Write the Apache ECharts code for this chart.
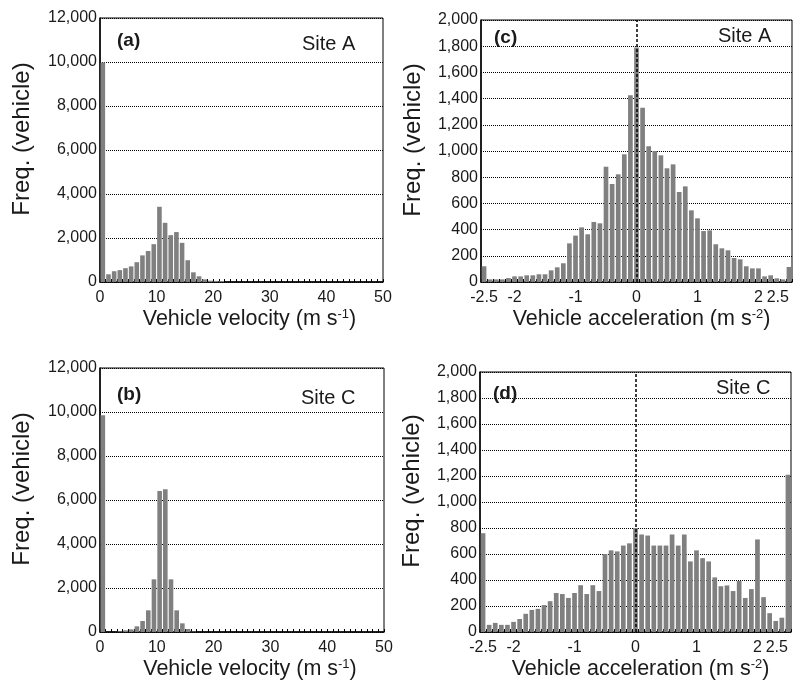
<!DOCTYPE html>
<html><head><meta charset="utf-8">
<script src="https://cdn.jsdelivr.net/npm/echarts@6/dist/echarts.min.js"></script>
<style>html,body{margin:0;padding:0;background:#fff}#c{width:800px;height:686px}</style>
</head><body><div id="c"></div>
<script>
// ---- data ----
const velBins = [0,1,2,3,4,5,6,7,8,9,10,11,12,13,14,15,16,17,18,19,20,21,22,23,24,25,26,27,28,29,30,31,32,33,34,35,36,37,38,39,40,41,42,43,44,45,46,47,48,49];
const velSiteA = [9980,350,490,540,630,710,900,1210,1410,1720,3420,2690,2130,2270,1780,990,440,260,120,60,50,45,0,0,0,0,0,0,0,0,0,0,0,0,0,0,0,0,0,0,0,0,0,0,0,0,0,0,0,0];
const velSiteC = [9850,0,0,30,76,120,258,500,985,2394,6410,6485,2394,985,394,136,20,0,0,0,0,0,0,0,0,0,0,0,0,0,0,0,0,0,0,0,0,0,0,0,0,0,0,0,0,0,0,0,0,0];
const velTickLabels = [0,10,20,30,40,50];
const velFreqTicks = [0,2000,4000,6000,8000,10000,12000];

const accBins = [-2.5,-2.4,-2.3,-2.2,-2.1,-2,-1.9,-1.8,-1.7,-1.6,-1.5,-1.4,-1.3,-1.2,-1.1,-1,-0.9,-0.8,-0.7,-0.6,-0.5,-0.4,-0.3,-0.2,-0.1,0,0.1,0.2,0.3,0.4,0.5,0.6,0.7,0.8,0.9,1,1.1,1.2,1.3,1.4,1.5,1.6,1.7,1.8,1.9,2,2.1,2.2,2.3,2.4,2.5];
const accSiteA = [120,20,20,20,30,43,43,51,51,59,59,89,112,143,295,354,417,364,458,448,880,748,822,975,1425,1790,1330,1036,1000,967,868,898,687,730,547,486,389,394,288,257,242,183,173,120,104,104,43,51,28,20,115];
const accSiteC = [760,55,70,55,55,78,100,140,170,178,207,237,300,292,262,300,360,292,360,315,600,628,620,665,682,800,750,742,665,665,665,750,665,750,543,628,568,543,420,352,358,315,392,262,330,712,268,145,85,110,1210];
const accTickLabels = [-2.5,-2,-1,0,1,2,2.5];
const accFreqTicks = [0,200,400,600,800,1000,1200,1400,1600,1800,2000];

// ---- styling ----
const FONT = '"Liberation Sans", Arial, sans-serif';
const TXT = '#1a1a1a';
const BAR = '#808080';

const grids = [
  {left:100, top:18, width:283, height:264},   // a
  {left:481, top:20, width:311, height:262},   // c
  {left:100, top:368, width:284, height:264},  // b
  {left:480, top:372, width:311, height:260}   // d
];

function yAxis(idx, ticks, nameGap) {
  return {
    type:'value', gridIndex:idx, min:ticks[0], max:ticks[ticks.length-1],
    interval: ticks[1]-ticks[0],
    axisLine:{show:true, lineStyle:{color:'#000', width:1.5}},
    axisTick:{show:false},
    axisLabel:{fontFamily:FONT, fontSize:16, color:TXT, margin:3,
      formatter: v => v.toLocaleString('en-US')},
    splitLine:{show:true, lineStyle:{type:'dotted', color:'#000', width:1}},
    name:'Freq. (vehicle)', nameLocation:'middle', nameGap:nameGap,
    nameTextStyle:{fontFamily:FONT, fontSize:24, color:TXT, padding:[0,0,0,22]}
  };
}
const nameRich = {sup:{fontFamily:FONT, fontSize:13, color:TXT, verticalAlign:'top', lineHeight:15}};

function velXAxis(idx) {
  return {
    type:'value', gridIndex:idx, min:velTickLabels[0], max:velTickLabels[velTickLabels.length-1],
    interval: velTickLabels[1]-velTickLabels[0],
    axisLine:{show:true, lineStyle:{color:'#000', width:1.5}},
    axisTick:{show:true, inside:true, length:3, lineStyle:{color:'#000'}},
    minorTick:{show:true, splitNumber:10, length:3, lineStyle:{color:'#000'}},
    axisLabel:{fontFamily:FONT, fontSize:16, color:TXT, margin:8},
    splitLine:{show:false},
    name:'Vehicle velocity (m s{sup|-1})', nameLocation:'middle', nameGap:26,
    nameTextStyle:{fontFamily:FONT, fontSize:21.5, color:TXT, rich:nameRich, padding:[0,0,0,16]}
  };
}
function accXAxis(idx) {
  return {
    type:'category', gridIndex:idx, data:accBins.map(String), boundaryGap:true,
    axisLine:{show:true, lineStyle:{color:'#000', width:1.5}},
    axisTick:{show:true, inside:true, length:3, interval:0, lineStyle:{color:'#000'}},
    axisLabel:{fontFamily:FONT, fontSize:16, color:TXT, margin:8,
      interval:(i, v) => accTickLabels.includes(Number(v)), alignMaxLabel:'right'},
    splitLine:{show:false},
    name:'Vehicle acceleration (m s{sup|-2})', nameLocation:'middle', nameGap:26,
    nameTextStyle:{fontFamily:FONT, fontSize:21.5, color:TXT, rich:nameRich, padding:[0,0,0,10]}
  };
}
const zeroLine = {
  silent:true, symbol:['none','none'], label:{show:false},
  lineStyle:{type:[3,2], color:'#000', width:1.5},
  data:[{xAxis:'0'}]
};

function panelText(x, y, text, bold) {
  return {type:'text', left:x, top:y, z:100,
    style:{text:text, fill:TXT, font:(bold?'bold 19px ':'20px ')+FONT}};
}

const option = {
  animation:false,
  backgroundColor:'#fff',
  grid: grids.map(g => Object.assign({show:true, borderColor:'#000', borderWidth:1, backgroundColor:'transparent'}, g)),
  xAxis:[velXAxis(0), accXAxis(1), velXAxis(2), accXAxis(3)],
  yAxis:[yAxis(0, velFreqTicks, 66), yAxis(1, accFreqTicks, 56), yAxis(2, velFreqTicks, 66), yAxis(3, accFreqTicks, 56)],
  series:[
    {type:'bar', xAxisIndex:0, yAxisIndex:0, barWidth:4.6, itemStyle:{color:BAR}, silent:true,
      data: velBins.map((b,i)=>[b+0.5, velSiteA[i]])},
    {type:'bar', xAxisIndex:1, yAxisIndex:1, barWidth:'77%', itemStyle:{color:BAR}, silent:true,
      data: accSiteA, markLine: zeroLine},
    {type:'bar', xAxisIndex:2, yAxisIndex:2, barWidth:4.6, itemStyle:{color:BAR}, silent:true,
      data: velBins.map((b,i)=>[b+0.5, velSiteC[i]])},
    {type:'bar', xAxisIndex:3, yAxisIndex:3, barWidth:'77%', itemStyle:{color:BAR}, silent:true,
      data: accSiteC, markLine: zeroLine}
  ],
  graphic:[
    panelText(117, 31, '(a)', true), panelText(302, 34, 'Site A', false),
    panelText(494, 28, '(c)', true), panelText(718, 26, 'Site A', false),
    panelText(117, 385, '(b)', true), panelText(301, 388, 'Site C', false),
    panelText(493, 384, '(d)', true), panelText(716, 378, 'Site C', false)
  ]
};
const chart = echarts.init(document.getElementById('c'), null, {renderer:'canvas'});
chart.setOption(option);
</script></body></html>
